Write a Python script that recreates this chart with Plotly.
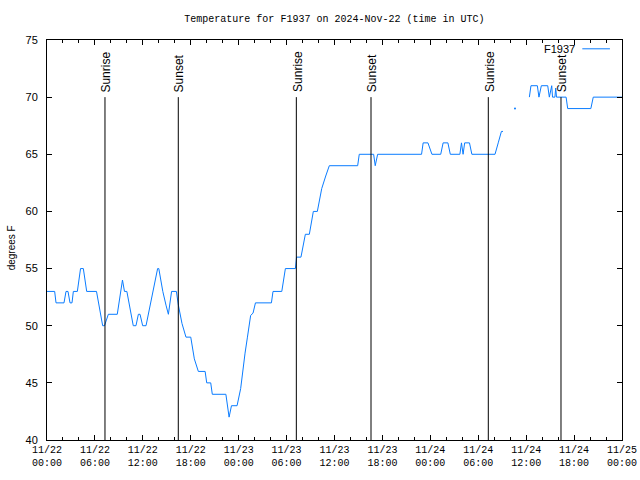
import plotly.graph_objects as go
import pandas as pd

base = pd.Timestamp("2024-11-22 00:00")

# temperature readings: hours after 2024-11-22 00:00 UTC, degrees F (None = missing data)
hours = [0.0, 0.96, 1.13, 2.13, 2.38, 2.63, 2.88, 3.13, 3.3, 3.8, 4.2, 4.55, 4.97, 6.2,
         6.97, 7.2, 7.68, 8.8, 9.45, 9.7, 10.0, 10.8, 11.14, 11.44, 11.65, 11.98, 12.4,
         13.3, 13.85, 14.0, 14.5, 14.9, 15.2, 15.6, 16.2, 16.45, 16.9, 17.4, 18.0, 18.45,
         18.95, 19.8, 20.0, 20.5, 20.7, 22.4, 22.6, 22.8, 23.1, 23.8, 24.25, 24.4, 24.8,
         25.1, 25.5, 25.8, 26.1, 28.1, 28.3, 29.4, 29.7, 29.85, 31.1, 31.25, 31.8, 32.35,
         32.85, 33.35, 33.85, 34.4, 34.9, 35.35, 38.9, 39.1, 40.9, 41.1, 41.4, 46.9, 47.1,
         47.7, 48.2, 49.3, 49.6, 50.2, 50.5, 51.7, 51.9, 52.1, 52.3, 52.9, 53.2, 56.1,
         56.5, 56.9, 57.1, 57.5,
         60.4, 60.6, 61.4, 61.6, 61.9, 62.7, 62.9, 63.2, 63.3, 63.6, 63.7, 63.8, 65.0,
         65.2, 68.1, 68.4, 72.0]
temps = [53, 53, 52, 52, 53, 53, 52, 52, 53, 53, 55, 55, 53, 53,
         50, 50, 51, 51, 54, 53, 53, 50, 50, 51, 51, 50, 50,
         53, 55, 55, 53, 51.8, 51, 53, 53, 51.8, 50.2, 49, 49, 47.1,
         46, 46, 45, 45, 44, 44, 43, 42, 43, 43, 44.5, 45.5, 47.6,
         49, 50.9, 51.1, 52, 52, 53, 53, 54.3, 55, 55, 56, 56, 58,
         58, 60, 60, 62, 63.1, 64, 64, 65, 65, 64, 65, 65, 66,
         66, 65, 65, 66, 66, 65, 65, 66, 65, 66, 66, 65, 65,
         66, 67, 67, None,
         70, 71, 71, 70, 71, 71, 70, 71, 70, 70, 70.8, 70, 70,
         69, 69, 70, 70]

# isolated reading inside the data gap
dot_hours = [58.6]
dot_temps = [69]

# sunrise / sunset markers
event_hours = [7.26, 16.44, 31.22, 40.57, 55.26, 64.36]
event_labels = ["Sunrise", "Sunset", "Sunrise", "Sunset", "Sunrise", "Sunset"]

tick_hours = list(range(0, 73, 6))
tick_labels = ["11/22<br>00:00", "11/22<br>06:00", "11/22<br>12:00", "11/22<br>18:00",
               "11/23<br>00:00", "11/23<br>06:00", "11/23<br>12:00", "11/23<br>18:00",
               "11/24<br>00:00", "11/24<br>06:00", "11/24<br>12:00", "11/24<br>18:00",
               "11/25<br>00:00"]


def to_time(h):
    return base + pd.to_timedelta(h, unit="h")


LINE_COLOR = "#0a7cff"
MONO = "Liberation Mono, DejaVu Sans Mono, monospace"
SANS = "Liberation Sans, Arial, sans-serif"

fig = go.Figure()
fig.add_trace(go.Scatter(
    x=[to_time(h) for h in hours], y=temps, mode="lines",
    line=dict(color=LINE_COLOR, width=1), connectgaps=False, showlegend=False,
    hoverinfo="skip"))
fig.add_trace(go.Scatter(
    x=[to_time(h) for h in dot_hours], y=dot_temps, mode="markers",
    marker=dict(color=LINE_COLOR, size=2), showlegend=False, hoverinfo="skip"))

shapes = []
annotations = []
for h, lab in zip(event_hours, event_labels):
    t = to_time(h)
    shapes.append(dict(type="line", xref="x", yref="y", x0=t, x1=t, y0=40, y1=70,
                       line=dict(color="black", width=1)))
    annotations.append(dict(x=t, y=70, xref="x", yref="y", text=lab, textangle=-90,
                            showarrow=False, xanchor="center", yanchor="bottom",
                            yshift=3, xshift=1,
                            font=dict(family=SANS, size=12, color="black")))

# legend emulation: text then line sample
annotations.append(dict(x=0.921, y=0.978, xref="paper", yref="paper", text="F1937",
                        showarrow=False, xanchor="right", yanchor="middle",
                        font=dict(family=SANS, size=11, color="black")))
shapes.append(dict(type="line", xref="paper", yref="paper", x0=0.931, x1=0.979,
                   y0=0.978, y1=0.978, line=dict(color=LINE_COLOR, width=1)))

# y-axis title
annotations.append(dict(x=-0.062, y=0.48, xref="paper", yref="paper", text="degrees F",
                        textangle=-90, showarrow=False, xanchor="center", yanchor="middle",
                        font=dict(family=SANS, size=10, color="black")))

fig.update_layout(
    width=640, height=480,
    margin=dict(l=47, r=18, t=40, b=40, autoexpand=False),
    paper_bgcolor="white", plot_bgcolor="white",
    title=dict(text="Temperature for F1937 on 2024-Nov-22 (time in UTC)",
               x=0.5225, xanchor="center", y=0.962, yanchor="middle",
               font=dict(family=MONO, size=10, color="black")),
    shapes=shapes, annotations=annotations,
    showlegend=False,
    hovermode=False,
)
fig.update_xaxes(
    type="date", range=[to_time(0), to_time(72)], automargin=False,
    tickvals=[to_time(h) for h in tick_hours], ticktext=tick_labels,
    ticks="inside", ticklen=5, tickwidth=1, tickcolor="black",
    showline=True, linecolor="black", linewidth=1, mirror="ticks",
    showgrid=False, zeroline=False,
    tickfont=dict(family=MONO, size=10, color="black"),
    ticklabeloverflow="allow",
    minor=dict(ticks="inside", ticklen=3, tickcolor="black",
               tickvals=[to_time(h) for h in range(0, 73, 2)], showgrid=False),
)
fig.update_yaxes(
    range=[40, 75], dtick=5, tick0=40, automargin=False,
    ticks="inside", ticklen=5, tickwidth=1, tickcolor="black",
    showline=True, linecolor="black", linewidth=1, mirror="ticks",
    showgrid=False, zeroline=False,
    ticklabelstandoff=6,
    tickfont=dict(family=SANS, size=11, color="black"),
)

# remove the default 8px page margin so the 640x480 figure fills the window exactly
fig.write_html("out.html", config={"displayModeBar": False},
               post_script="document.body.style.margin='0';document.body.style.overflow='hidden';")
